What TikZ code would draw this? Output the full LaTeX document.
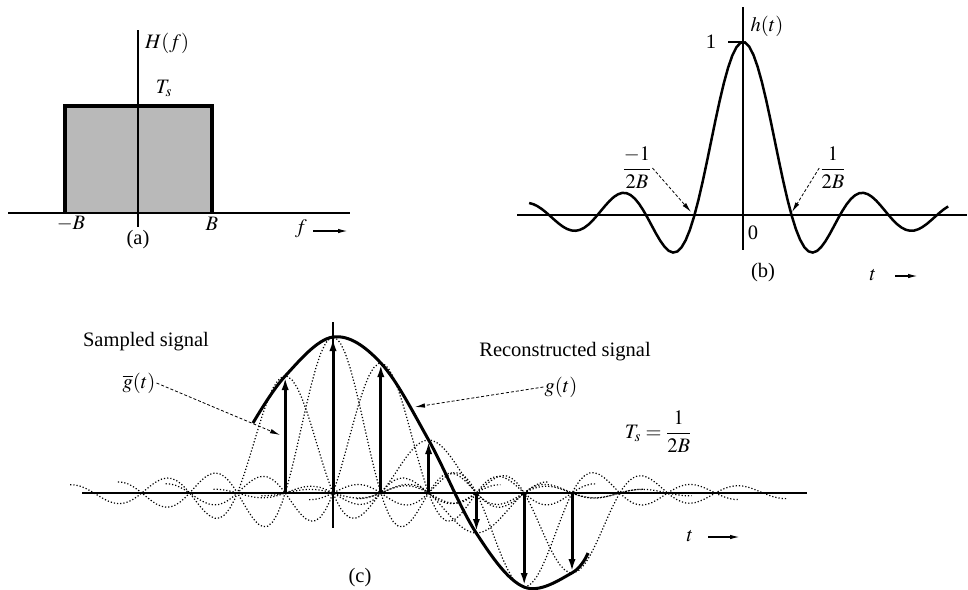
\documentclass[tikz,border=0pt]{standalone}
\usepackage{mathptmx}
\usepackage{fontspec}
\setmainfont{Liberation Serif}
\usetikzlibrary{arrows.meta, calc}

\begin{document}
\begin{tikzpicture}[x=1pt, y=-1pt,
  axis/.style={line width=1.2pt},
  heavy/.style={line width=3.4pt, line join=miter},
  sincdot/.style={dash pattern=on 1.2pt off 2pt, line width=1.2pt},
  lbl/.style={font=\fontsize{20.5}{24}\selectfont, inner sep=1pt},
  leader/.style={densely dashed, line width=0.8pt, -{Latex[length=10pt, width=4.5pt]}},
  tarrow/.style={line width=1.4pt, -{Latex[length=10pt, width=4.5pt]}},
  sample/.style={line width=3pt, -{Latex[length=14pt, width=7pt]}},
  declare function={snc(\u)=sin(180*\u)/(pi*\u);}
]
\useasboundingbox (0,0) rectangle (968,589);

% (a) ideal low-pass filter
\fill[gray!55] (65,106) rectangle (212,213);
\draw[axis] (8,213) -- (350,213);
\draw[axis] (138,30) -- (138,227);
\draw[heavy] (65,213) -- (65,106) -- (212,106) -- (212,213);
\node[lbl, anchor=west] (Hf) at (144,43) {$H(f)$};
\node[lbl] (Ts) at (164,88) {$T_s$};
\node[lbl] (mB) at (71,224) {$-B$};
\node[lbl] (pB) at (212,224) {$B$};
\node[lbl] (fvar) at (301,229) {$f$};
\coordinate (fa0) at (313,231);
\coordinate (fa1) at (348,231);
\draw[tarrow] (fa0) -- (fa1);
\node[lbl] (capa) at (138,240) {(a)};

% (b) impulse response
\draw[axis] (517,215) -- (967,215);
\draw[axis] (743,7) -- (743,250);
\draw[axis] (728,42) -- (743,42);
\draw[line width=2.5pt] plot[domain=-4.41:4.23, samples=100] ({743+48.5*\x}, {215-173*snc(\x)});
\node[lbl] (one) at (711,42) {1};
\node[lbl] (ht) at (767,26) {$h(t)$};
\node[lbl] (zero) at (753,233) {0};
\node[lbl] (mhalf) at (637,168) {$\displaystyle\frac{-1}{2B}$};
\node[lbl] (phalf) at (833,168) {$\displaystyle\frac{1}{2B}$};
\coordinate (zl) at (691,212);
\coordinate (zr) at (792,212);
\draw[leader] (mhalf.east) -- (zl);
\draw[leader] (phalf.west) -- (zr);
\node[lbl] (capb) at (763,273) {(b)};
\node[lbl] (tb) at (873,275) {$t$};
\coordinate (ta0) at (895,276);
\coordinate (ta1) at (918,276);
\draw[tarrow] (ta0) -- (ta1);

% (c) reconstruction from samples
\draw[axis] (82,493) -- (807,493);
\draw[axis] (333,322) -- (333,528);
\foreach \n/\g in {-1/117, 0/156, 1/130, 2/53, 3/-40, 4/-94, 5/-80}
  \draw[sincdot] plot[domain=-4.5:4.5, samples=90] ({333+47.8*(\n+\x)}, {493-\g*snc(\x)});
\draw[line width=3pt] plot[smooth, tension=0.6] coordinates
  {(253,423) (285.2,376) (333,337) (380.8,363) (428.6,440) (476.2,533) (524,587) (571.8,573) (588,553)};
\foreach \n/\g in {-1/117, 0/156, 1/130, 2/53, 3/-40, 4/-94, 5/-80}
  \draw[sample] ({333+47.8*\n}, 493) -- ({333+47.8*\n}, {493-\g});

\node[lbl] (samp) at (146,342) {Sampled signal};
\node[lbl] (gbar) at (139,383) {$\overline{g}(t)$};
\coordinate (gbartip) at (280,435);
\draw[leader] (gbar.east) -- (gbartip);
\node[lbl] (recon) at (565,352) {Reconstructed signal};
\node[lbl] (gt) at (561,387) {$g(t)$};
\coordinate (gtip) at (415,407);
\draw[leader] (gt.west) -- (gtip);
\node[lbl] (tsform) at (658,432) {$T_s = \displaystyle\frac{1}{2B}$};
\node[lbl] (tc) at (690,536) {$t$};
\coordinate (tc0) at (708,537);
\coordinate (tc1) at (740,537);
\draw[tarrow] (tc0) -- (tc1);
\node[lbl] (capc) at (360,578) {(c)};
\end{tikzpicture}
\end{document}
